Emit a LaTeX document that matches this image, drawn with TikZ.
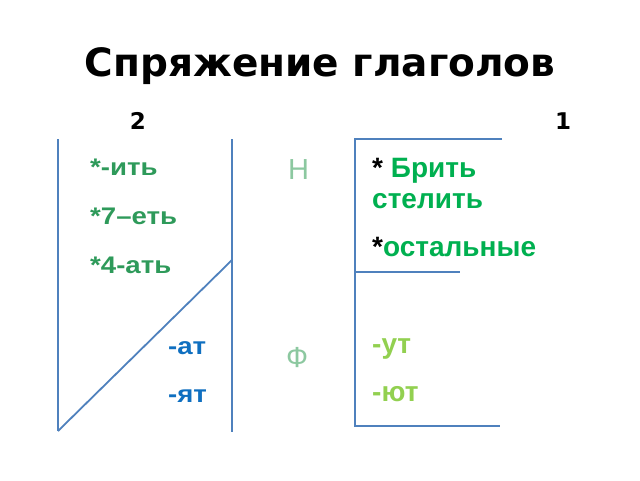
\documentclass[tikz,border=0pt]{standalone}
\usepackage{fontspec}
\setmainfont{Liberation Sans}
\newfontfamily\titlefont{DejaVu Sans}
\newfontfamily\widefont[FakeStretch=1.15]{Liberation Sans}
\definecolor{lineblue}{HTML}{4F81BD}
\definecolor{darkgreen}{HTML}{2E9A5A}
\definecolor{brightgreen}{HTML}{00B050}
\definecolor{lightgreen}{HTML}{92D050}
\definecolor{paleletter}{HTML}{8CC8A0}
\definecolor{endblue}{HTML}{0F6FC0}
\begin{document}
\begin{tikzpicture}[x=1pt,y=-1pt,
  rule/.style={draw=lineblue,line width=1.8pt},
  lbl/.style={anchor=base west,inner sep=0pt,font=\widefont\bfseries\fontsize{24}{28}\selectfont},
  rlbl/.style={anchor=base west,inner sep=0pt,font=\bfseries\fontsize{28}{32}\selectfont},
  letter/.style={anchor=base west,inner sep=0pt,text=paleletter,font=\fontsize{29}{33}\selectfont},
  num/.style={anchor=base,inner sep=0pt,font=\titlefont\bfseries\fontsize{23}{27}\selectfont}]
\useasboundingbox (0,0) rectangle (640,480);
\fill[white] (0,0) rectangle (640,480);
% title
\node[anchor=base,inner sep=0pt,font=\titlefont\bfseries\fontsize{39}{45}\selectfont] (title) at (320,76) {Спряжение глаголов};
\node[num] (two) at (138,129) {2};
\node[num] (one) at (563,129) {1};
% left frame
\coordinate (lt) at (58,139);
\coordinate (lb) at (58,431);
\coordinate (rt) at (232,139);
\coordinate (rb) at (232,432);
\coordinate (rm) at (232,260);
\draw[rule] (lt) -- (lb);
\draw[rule] (rt) -- (rb);
\draw[rule] (lb) -- (rm);
% right bracket
\coordinate (bt) at (355,139);
\coordinate (bm) at (355,272);
\coordinate (bb) at (355,426);
\coordinate (et) at (502,139);
\coordinate (em) at (460,272);
\coordinate (eb) at (500,426);
\draw[rule] (et) -- (bt) -- (bb) -- (eb);
\draw[rule] (bm) -- (em);
% left texts
\node[lbl,text=darkgreen] (a1) at (90,175) {*-ить};
\node[lbl,text=darkgreen] (a2) at (90,224) {*7–еть};
\node[lbl,text=darkgreen] (a3) at (90,273) {*4-ать};
\node[lbl,text=endblue] (a4) at (168,354) {-ат};
\node[lbl,text=endblue] (a5) at (168,402) {-ят};
% middle letters
\node[letter] (n) at (288,179) {Н};
\node[letter] (f) at (286,367) {Ф};
% right texts
\node[rlbl,text=brightgreen] (b1) at (372,177) {\textcolor{black}{*} Брить};
\node[rlbl,text=brightgreen] (b2) at (372,208) {стелить};
\node[rlbl,text=brightgreen] (b3) at (372,256) {\textcolor{black}{*}остальные};
\node[rlbl,text=lightgreen] (b4) at (372,353) {-ут};
\node[rlbl,text=lightgreen] (b5) at (372,401) {-ют};
\end{tikzpicture}
\end{document}
